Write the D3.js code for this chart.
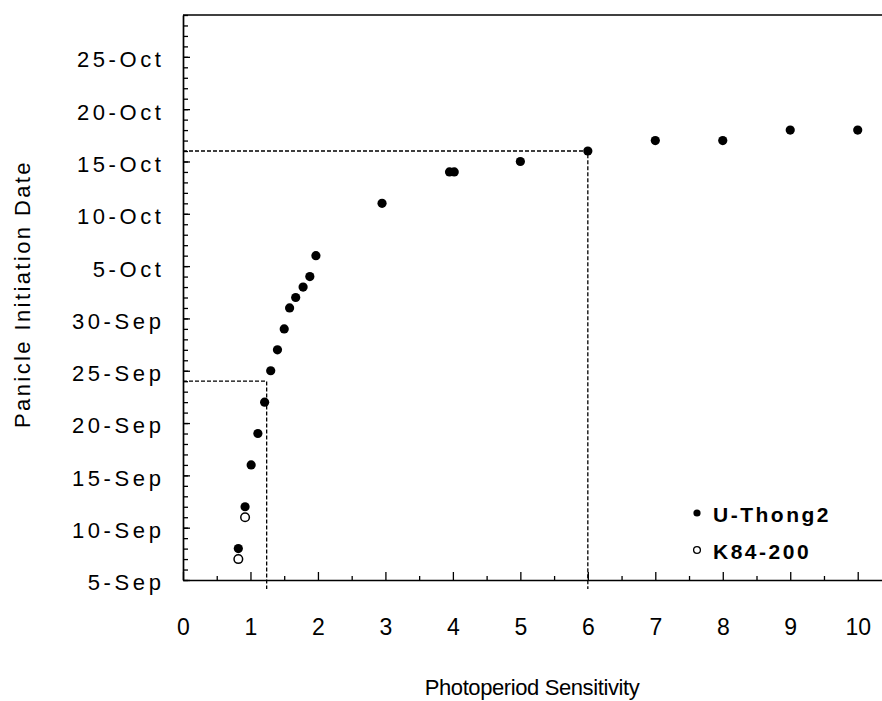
<!DOCTYPE html>
<meta charset="utf-8">
<title>Panicle Initiation</title>
<body style="margin:0;background:#fff;">
<div id="chart"></div>
<script src="https://d3js.org/d3.v7.min.js"></script>
<script>

  // data
  const sensUThong = [0.82, 0.92, 1.01, 1.11, 1.21, 1.30, 1.40, 1.50, 1.58, 1.67, 1.78, 1.88, 1.97, 2.95, 3.95, 4.02, 5, 6, 7, 8, 9, 10];
  const dateUThong = ["8-Sep", "12-Sep", "16-Sep", "19-Sep", "22-Sep", "25-Sep", "27-Sep", "29-Sep", "1-Oct", "2-Oct", "3-Oct", "4-Oct", "6-Oct",
                      "11-Oct", "14-Oct", "14-Oct", "15-Oct", "16-Oct", "17-Oct", "17-Oct", "18-Oct", "18-Oct"];
  const sensK84 = [0.82, 0.92];
  const dateK84 = ["7-Sep", "11-Sep"];

  // dashed guide lines (sensitivity -> date)
  const guideSens = [1.24, 6];
  const guideDate = ["24-Sep", "16-Oct"];

  const yTickLabels = ["5-Sep", "10-Sep", "15-Sep", "20-Sep", "25-Sep", "30-Sep", "5-Oct", "10-Oct", "15-Oct", "20-Oct", "25-Oct"];
  const xTickValues = [0, 1, 2, 3, 4, 5, 6, 7, 8, 9, 10];

  const parse = s => d3.timeParse("%e-%b-%Y")(s + "-2001");
  const font = "'Liberation Sans', Arial, sans-serif";

  const W = 882, H = 701;
  const margin = {top: 15, right: 0, bottom: 121, left: 183};
  const width = W - margin.left - margin.right,
        height = H - margin.top - margin.bottom;

  const svg = d3.select("#chart").append("svg")
      .attr("width", W)
      .attr("height", H)
      .style("font-family", font);

  const g = svg.append("g")
      .attr("transform", `translate(${margin.left},${margin.top})`);

  const x = d3.scaleLinear().domain([0, 10.36]).range([0, width]);
  const y = d3.scaleTime().domain([parse("5-Sep"), parse("29-Oct")]).range([height, 0]);

  // x axis: integer ticks with half-unit minor ticks, pointing inward
  g.append("g")
      .attr("transform", `translate(0,${height})`)
      .call(d3.axisTop(x).tickValues(d3.range(0.5, 10.4, 1)).tickSize(4).tickFormat(""))
      .call(a => a.select(".domain").remove());
  const xAxis = g.append("g")
      .attr("transform", `translate(0,${height})`)
      .call(d3.axisTop(x).tickValues(xTickValues).tickSize(8).tickSizeOuter(0));
  xAxis.selectAll("text")
      .attr("y", 55).attr("dy", 0)
      .attr("font-size", 23).attr("fill", "#000")
      .attr("font-family", font);

  // y axis: daily minor ticks, 5-day labelled ticks, pointing inward
  g.append("g")
      .call(d3.axisRight(y).ticks(d3.timeDay.every(1)).tickSize(5).tickFormat(""))
      .call(a => a.select(".domain").remove());
  const yAxis = g.append("g")
      .call(d3.axisRight(y).tickValues(yTickLabels.map(parse)).tickSize(7).tickSizeOuter(0)
        .tickFormat((d, i) => yTickLabels[i]));
  yAxis.selectAll("text")
      .attr("x", -18.5).attr("dy", "0.45em")
      .attr("text-anchor", "end")
      .attr("font-size", 22).attr("fill", "#000")
      .attr("letter-spacing", 3.6)
      .attr("font-family", font);

  g.selectAll(".domain").attr("stroke-width", 1.7);
  g.selectAll(".tick line").attr("stroke-width", 1.3);

  // top frame line
  g.append("line")
      .attr("x1", 0).attr("x2", width).attr("y1", 0).attr("y2", 0)
      .attr("stroke", "#000").attr("stroke-width", 1.7);

  // dashed guides
  guideSens.forEach((s, i) => {
    const gx = x(s), gy = y(parse(guideDate[i]));
    g.append("path")
        .attr("d", `M0,${gy}H${gx}V${height + 9}`)
        .attr("fill", "none")
        .attr("stroke", "#000")
        .attr("stroke-width", 1.3)
        .attr("stroke-dasharray", "4,2");
  });

  // points
  g.selectAll(".uthong")
    .data(sensUThong)
    .join("circle")
      .attr("class", "uthong")
      .attr("cx", d => x(d))
      .attr("cy", (d, i) => y(parse(dateUThong[i])))
      .attr("r", 4.6)
      .attr("fill", "#000");

  g.selectAll(".k84")
    .data(sensK84)
    .join("circle")
      .attr("class", "k84")
      .attr("cx", d => x(d))
      .attr("cy", (d, i) => y(parse(dateK84[i])))
      .attr("r", 4.3)
      .attr("fill", "#fff")
      .attr("stroke", "#000")
      .attr("stroke-width", 1.5);

  // legend
  const legend = svg.append("g").attr("transform", "translate(697,513)");
  legend.append("circle").attr("r", 3.6).attr("fill", "#000");
  legend.append("circle").attr("cy", 37).attr("r", 3.4).attr("fill", "#fff")
      .attr("stroke", "#000").attr("stroke-width", 1.3);
  legend.selectAll("text")
    .data(["U-Thong2", "K84-200"])
    .join("text")
      .attr("x", 16)
      .attr("y", (d, i) => 9 + i * 37)
      .attr("font-size", 21)
      .attr("font-weight", "bold")
      .attr("letter-spacing", 2.5)
      .text(d => d);

  // axis titles
  svg.append("text")
      .attr("x", 532).attr("y", 695)
      .attr("text-anchor", "middle")
      .attr("font-size", 22)
      .attr("letter-spacing", -0.4)
      .text("Photoperiod Sensitivity");

  svg.append("text")
      .attr("transform", "translate(30,294) rotate(-90)")
      .attr("text-anchor", "middle")
      .attr("font-size", 22)
      .attr("letter-spacing", 2.4)
      .text("Panicle Initiation Date");

</script>
